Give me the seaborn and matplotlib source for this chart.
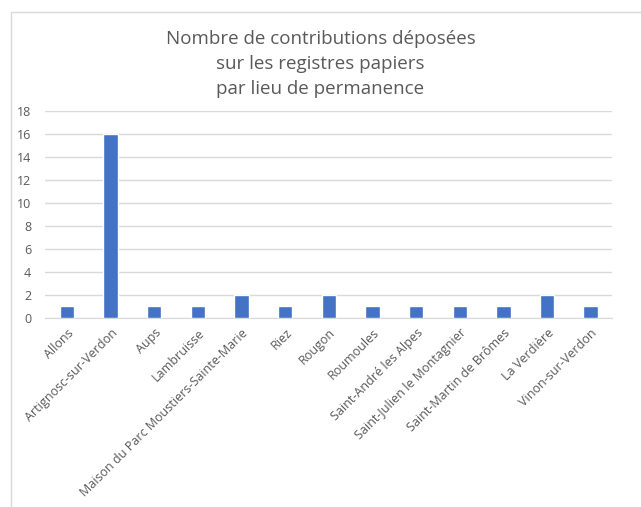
import seaborn as sns
import pandas as pd
import matplotlib.pyplot as plt
from matplotlib.patches import Rectangle

# Data
lieux = ['Allons', 'Artignosc-sur-Verdon', 'Aups', 'Lambruisse',
         'Maison du Parc Moustiers-Sainte-Marie', 'Riez', 'Rougon',
         'Roumoules', 'Saint-André les Alpes', 'Saint-Julien le Montagnier',
         'Saint-Martin de Brômes', 'La Verdière', 'Vinon-sur-Verdon']
contributions = [1, 16, 1, 1, 2, 1, 2, 1, 1, 1, 1, 2, 1]
y_ticks = [0, 2, 4, 6, 8, 10, 12, 14, 16, 18]

df = pd.DataFrame({'Lieu': lieux, 'Contributions': contributions})

sns.set_style('white')
plt.rcParams['font.family'] = ['Open Sans', 'DejaVu Sans']
text_color = '#595959'

fig = plt.figure(figsize=(6.41, 5.07), dpi=100)
ax = fig.add_axes([0.0705, 0.3728, 0.885, 0.409])

sns.barplot(data=df, x='Lieu', y='Contributions', color='#4472C4',
            width=0.33, saturation=1, ax=ax, zorder=3)

ax.set_ylim(0, 18)
ax.set_yticks(y_ticks)
ax.yaxis.grid(True, color='#D9D9D9', linewidth=1, zorder=0)
ax.set_xlabel('')
ax.set_ylabel('')
for side in ['top', 'right', 'left']:
    ax.spines[side].set_visible(False)
ax.spines['bottom'].set_color('#D9D9D9')
ax.tick_params(axis='both', length=0, colors=text_color, labelsize=9)
ax.tick_params(axis='y', pad=10)
ax.tick_params(axis='x', pad=6)
plt.setp(ax.get_xticklabels(), rotation=45, ha='right', rotation_mode='anchor')

fig.text(0.5, 0.94, 'Nombre de contributions déposées\nsur les registres papiers\npar lieu de permanence',
         ha='center', va='top', fontsize=13.5, color=text_color, linespacing=1.5)

# Chart frame (only top and left edges visible in the crop)
fig.patches.append(Rectangle((11 / 641, -0.01), 1.0, 1 - 12 / 507 + 0.01,
                             transform=fig.transFigure, fill=False,
                             edgecolor='#D9D9D9', linewidth=1))

fig.savefig('out.png', dpi=100)
